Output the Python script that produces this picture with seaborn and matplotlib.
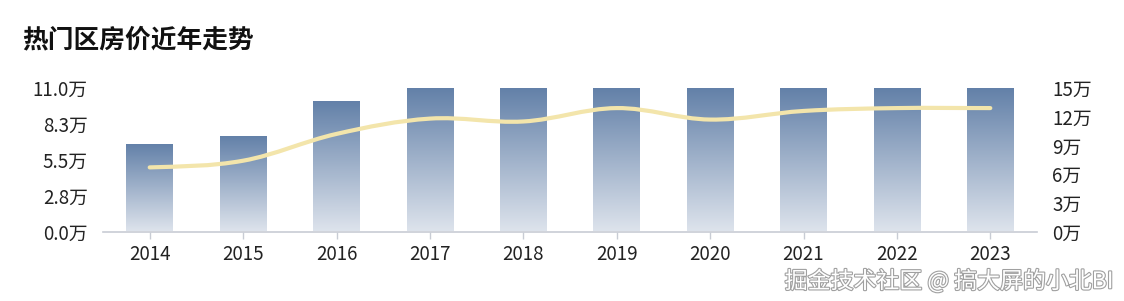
import numpy as np
import pandas as pd
import matplotlib
matplotlib.use("Agg")
import matplotlib.pyplot as plt
import matplotlib.patheffects as pe
from matplotlib.path import Path
from matplotlib.patches import PathPatch
from matplotlib.colors import LinearSegmentedColormap
import seaborn as sns

# ---------------- data ----------------
years = ["2014", "2015", "2016", "2017", "2018", "2019", "2020", "2021", "2022", "2023"]
bar_values = [6.7, 7.3, 10.0, 11.0, 11.0, 11.0, 11.0, 11.0, 11.0, 11.0]      # 万, left axis
line_values = [6.7, 7.4, 10.2, 11.8, 11.5, 12.9, 11.7, 12.6, 12.9, 12.9]     # 万, right axis
left_ticks = [0, 2.75, 5.5, 8.25, 11.0]
left_labels = ["0.0万", "2.8万", "5.5万", "8.3万", "11.0万"]
right_ticks = [0, 3, 6, 9, 12, 15]
right_labels = ["0万", "3万", "6万", "9万", "12万", "15万"]
title = "热门区房价近年走势"
watermark = "掘金技术社区 @ 搞大屏的小北BI"

# ---------------- style ----------------
sns.set_theme(style="white")
plt.rcParams["font.family"] = ["Noto Sans CJK SC", "DejaVu Sans"]
TXT = "#222222"
FS = 13.5

fig = plt.figure(figsize=(11.24, 3.01), dpi=100)
fig.patch.set_facecolor("white")
ax = fig.add_axes([103 / 1124, 1 - 231.5 / 301, (1037 - 103) / 1124, (231.5 - 88) / 301])

df = pd.DataFrame({"year": years, "bar": bar_values, "line": line_values})
sns.barplot(data=df, x="year", y="bar", ax=ax, width=0.5, color="#6482aa",
            edgecolor="none", linewidth=0, zorder=2)

ax.set_xlim(-0.5, len(years) - 0.5)
ax.set_ylim(0, 11.0)
ax.set_yticks(left_ticks)
ax.set_yticklabels(left_labels)
ax.set_xlabel("")
ax.set_ylabel("")

# gradient fill for bars (dark at top, light at bottom of each bar)
grad = np.linspace(0, 1, 256).reshape(-1, 1)
cmap = LinearSegmentedColormap.from_list("g", ["#dde3ec", "#6280a8"])
for p in ax.patches:
    x0, y0 = p.get_x(), p.get_y()
    w, h = p.get_width(), p.get_height()
    im = ax.imshow(grad, extent=[x0, x0 + w, y0, y0 + h], origin="lower",
                   cmap=cmap, aspect="auto", zorder=2.5, vmin=0, vmax=1)
    im.set_clip_path(p)
    p.set_alpha(0)
ax.set_xlim(-0.5, len(years) - 0.5)
ax.set_ylim(0, 11.0)

for s in ["top", "right", "left"]:
    ax.spines[s].set_visible(False)
ax.spines["bottom"].set_color("#c8ccd4")
ax.spines["bottom"].set_linewidth(1.2)
ax.tick_params(axis="x", which="both", bottom=True, length=5, width=1,
               color="#c8ccd4", pad=4, labelsize=FS, labelcolor=TXT)
ax.tick_params(axis="y", which="both", left=False, right=False, length=0,
               pad=11, labelsize=FS, labelcolor=TXT)
ax.grid(False)

# right axis with smooth line
ax2 = ax.twinx()
ax2.set_ylim(0, 15)
ax2.set_yticks(right_ticks)
ax2.set_yticklabels(right_labels)
ax2.tick_params(axis="y", which="both", left=False, right=False, length=0,
                pad=11, labelsize=FS, labelcolor=TXT)
for s in ["top", "right", "left", "bottom"]:
    ax2.spines[s].set_visible(False)
ax2.grid(False)

xs = np.arange(len(years), dtype=float)
ys = np.array(line_values, dtype=float)
t = 0.35
verts = [(xs[0], ys[0])]
codes = [Path.MOVETO]
n = len(xs)
for i in range(n - 1):
    p0 = (xs[max(i - 1, 0)], ys[max(i - 1, 0)])
    p1 = (xs[i], ys[i])
    p2 = (xs[i + 1], ys[i + 1])
    p3 = (xs[min(i + 2, n - 1)], ys[min(i + 2, n - 1)])
    c1 = (p1[0] + (p2[0] - p1[0]) * t, p1[1] + (p2[1] - p0[1]) * t / 2)
    c2 = (p2[0] - (p2[0] - p1[0]) * t, p2[1] - (p3[1] - p1[1]) * t / 2)
    verts += [c1, c2, p2]
    codes += [Path.CURVE4] * 3
path = Path(verts, codes)
ax2.add_patch(PathPatch(path, facecolor="none", edgecolor="#f3e5ab",
                        linewidth=3, capstyle="round", zorder=5))
ax2.set_xlim(-0.5, len(years) - 0.5)

# title
fig.text(22 / 1124, 1 - 40 / 301, title, fontsize=18.5, fontweight="bold",
         color="#111111", ha="left", va="center")

# watermark
fig.text(1113 / 1124, 1 - 281 / 301, watermark, fontsize=16.5, color="white",
         ha="right", va="center",
         path_effects=[pe.withStroke(linewidth=1.6, foreground="#a0a0a0")])

fig.savefig("out.png", dpi=100, facecolor="white")
